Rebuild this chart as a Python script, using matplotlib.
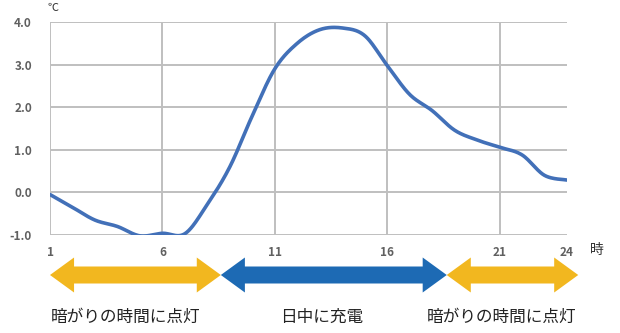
import numpy as np
import matplotlib
matplotlib.use('Agg')
import matplotlib.pyplot as plt
from matplotlib.patches import Polygon
from matplotlib.transforms import blended_transform_factory

plt.rcParams['font.family'] = ['Noto Sans CJK JP', 'DejaVu Sans']

# datos
horas = list(range(1, 25))
temperatura = [-0.05, -0.35, -0.65, -0.8, -1.02, -0.96, -0.97, -0.28, 0.6, 1.8,
               2.9, 3.5, 3.82, 3.86, 3.68, 2.98, 2.3, 1.92, 1.46, 1.23,
               1.06, 0.88, 0.4, 0.29]
xticks = [1, 6, 11, 16, 21, 24]
yticks = [-1.0, 0.0, 1.0, 2.0, 3.0, 4.0]

# tramos de las flechas (en horas)
tramos = [(1.0, 8.6), (8.6, 18.65), (18.65, 24.5)]
tramo_colores = ['#F2B71F', '#1D6AB4', '#F2B71F']
tramo_textos = ['暗がりの時間に点灯', '日中に充電', '暗がりの時間に点灯']
texto_horas = [4.38, 13.1, 21.1]


def catmull_rom(x, y, n=24):
    pts = np.column_stack([x, y]).astype(float)
    pts = np.vstack([pts[0], pts, pts[-1]])
    out = []
    t = np.linspace(0, 1, n)[:, None]
    for i in range(1, len(pts) - 2):
        p0, p1, p2, p3 = pts[i - 1], pts[i], pts[i + 1], pts[i + 2]
        seg = 0.5 * ((2 * p1) + (-p0 + p2) * t +
                     (2 * p0 - 5 * p1 + 4 * p2 - p3) * t ** 2 +
                     (-p0 + 3 * p1 - 3 * p2 + p3) * t ** 3)
        out.append(seg if i == 1 else seg[1:])
    out = np.vstack(out)
    return out[:, 0], out[:, 1]


fig = plt.figure(figsize=(6.2, 3.33), dpi=100)
ax = fig.add_axes([50 / 620, 1 - 235 / 333, 517 / 620, 213 / 333])

sx, sy = catmull_rom(horas, temperatura)
ax.plot(sx, sy, color='#4270B8', lw=2.6, solid_capstyle='round', zorder=3)

ax.set_xlim(1, 24)
ax.set_ylim(-1, 4)
ax.set_xticks(xticks)
ax.set_yticks(yticks)
ax.set_yticklabels(['%.1f' % v for v in yticks])
for v in yticks:
    ax.axhline(v, color='#BFBFBF', lw=1.4, zorder=1)
for v in xticks[:-1]:
    ax.axvline(v, color='#BFBFBF', lw=1.4, zorder=1)
for s in ax.spines.values():
    s.set_visible(False)
ax.tick_params(length=0, labelsize=8.5, labelcolor='#606060')
ax.tick_params(axis='y', pad=13)
ax.tick_params(axis='x', pad=8)
for lab in ax.get_xticklabels() + ax.get_yticklabels():
    lab.set_fontweight('bold')

fig.text(597 / 620, 1 - 250 / 333, '時', fontsize=10, ha='center', va='center', color='#333333')
fig.text(53 / 620, 1 - 8 / 333, '℃', fontsize=8, ha='center', va='center', color='#333333')

# flechas
tr = blended_transform_factory(ax.transData, fig.transFigure)
yc = 1 - 275 / 333
hh = 17.5 / 333
sh = 8.5 / 333
head = 1.07
for (a, b), c, txt, th in zip(tramos, tramo_colores, tramo_textos, texto_horas):
    poly = [(a, yc), (a + head, yc + hh), (a + head, yc + sh), (b - head, yc + sh),
            (b - head, yc + hh), (b, yc), (b - head, yc - hh), (b - head, yc - sh),
            (a + head, yc - sh), (a + head, yc - hh)]
    ax.add_patch(Polygon(poly, closed=True, facecolor=c, edgecolor='none',
                         transform=tr, clip_on=False))
    ax.text(th, 1 - 317 / 333, txt, transform=tr, fontsize=12,
            ha='center', va='center', color='#222222')

fig.savefig('out.png', dpi=100)
